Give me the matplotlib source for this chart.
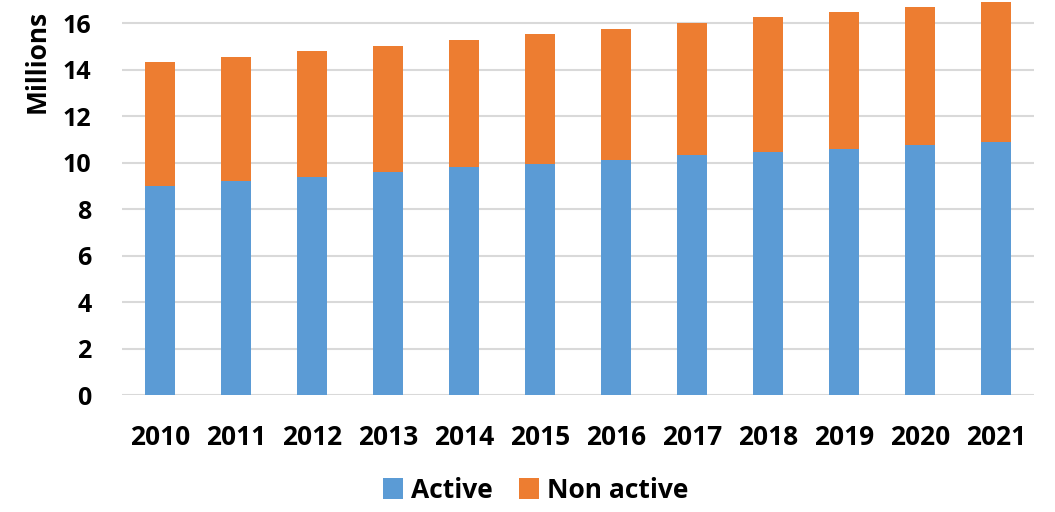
import matplotlib
matplotlib.use('Agg')
import matplotlib.pyplot as plt
import numpy as np

years = ["2010", "2011", "2012", "2013", "2014", "2015",
         "2016", "2017", "2018", "2019", "2020", "2021"]
active = [9.00, 9.19, 9.39, 9.61, 9.81, 9.96, 10.12, 10.31, 10.44, 10.58, 10.74, 10.90]
total = [14.32, 14.54, 14.80, 15.04, 15.28, 15.54, 15.74, 16.00, 16.26, 16.50, 16.71, 16.93]
non_active = [t - a for t, a in zip(total, active)]

plt.rcParams['font.family'] = ['Open Sans', 'DejaVu Sans']
plt.rcParams['font.weight'] = 'bold'

fig = plt.figure(figsize=(10.55, 5.12), dpi=100)
ax = fig.add_axes([0.1157, 0.2285, 0.8643, 0.7715])

x = np.arange(len(years))
ax.bar(x, active, width=0.4, color="#5B9BD5", label="Active", zorder=3)
ax.bar(x, non_active, width=0.4, bottom=active, color="#ED7D31", label="Non active", zorder=3)

ax.set_ylim(0, 17)
ax.set_xlim(-0.5, len(years) - 0.5)
ax.set_yticks(range(0, 17, 2))
ax.set_xticks(x)
ax.set_xticklabels(years)
ax.yaxis.grid(True, color="#d9d9d9", linewidth=1.5, zorder=0)
for s in ax.spines.values():
    s.set_visible(False)
ax.tick_params(axis='both', length=0)
ax.tick_params(axis='x', pad=21, labelsize=19)
ax.tick_params(axis='y', pad=22, labelsize=18)
for lab in ax.get_xticklabels() + ax.get_yticklabels():
    lab.set_fontweight('bold')

fig.text(0.035, 0.88, "Millions", rotation=90, ha='center', va='center',
         fontsize=19, fontweight='bold')

fig.legend(loc='lower center', bbox_to_anchor=(0.508, -0.03), ncol=2, frameon=False,
           handlelength=0.75, handleheight=0.9, handletextpad=0.3,
           columnspacing=1.0, prop={'weight': 'bold', 'size': 19})

plt.savefig("out.png", dpi=100)
